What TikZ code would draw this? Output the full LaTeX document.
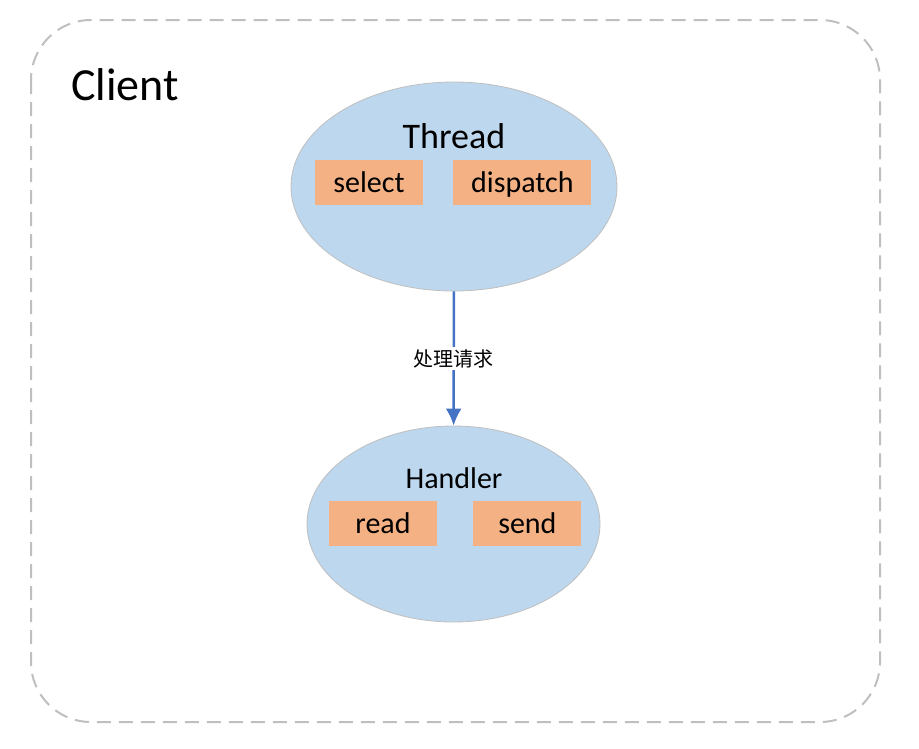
\documentclass[tikz,border=0pt]{standalone}
\usepackage{fontspec}
\setmainfont{Carlito}
\newfontfamily\cjk{Noto Sans CJK SC}
\usetikzlibrary{shapes,arrows,arrows.meta,positioning}
\definecolor{ballblue}{HTML}{BDD7EE}
\definecolor{boxorange}{HTML}{F4B183}
\definecolor{arrowblue}{HTML}{4472C4}
\definecolor{edgegray}{HTML}{BFBFBF}

\begin{document}
\begin{tikzpicture}[x=1pt, y=-1pt,
  ball/.style={draw=edgegray, line width=0.8pt, fill=ballblue, ellipse, inner sep=0pt},
  job/.style={fill=boxorange, minimum height=45pt, inner sep=0pt, text height=20pt, text depth=0pt, font=\fontsize{30}{36}\selectfont}]

\useasboundingbox (0,0) rectangle (919,748);

% client frame
\draw[edgegray, line width=2pt, dash pattern=on 14pt off 8pt, rounded corners=60pt] (31,20) rectangle (880,722);
\node[anchor=base west, inner sep=0pt, font=\fontsize{46}{54}\selectfont] (client) at (71,100) {Client};

% thread
\node[ball, minimum width=326pt, minimum height=209pt] (thread) at (454,186.5) {};
\node[anchor=base, font=\fontsize{36}{42}\selectfont] (threadname) at (454,148) {Thread};
\node[job, minimum width=108pt] (select) at (369,182.5) {select};
\node[job, minimum width=138pt, right=30pt of select] (dispatch) {dispatch};

% handler
\node[ball, minimum width=293pt, minimum height=196pt] (handler) at (453.5,524) {};
\node[anchor=base, font=\fontsize{30}{36}\selectfont] (handlername) at (454,488) {Handler};
\node[job, minimum width=108pt] (read) at (383,523.5) {read};
\node[job, minimum width=108pt, right=36pt of read] (send) {send};

\draw[->, arrowblue, line width=2.5pt, >={Latex[length=17pt,width=16pt]}] (thread) -- node[fill=white, inner sep=2pt, text=black, font=\cjk\fontsize{20}{24}\selectfont] {处理请求} (handler);

\end{tikzpicture}
\end{document}
